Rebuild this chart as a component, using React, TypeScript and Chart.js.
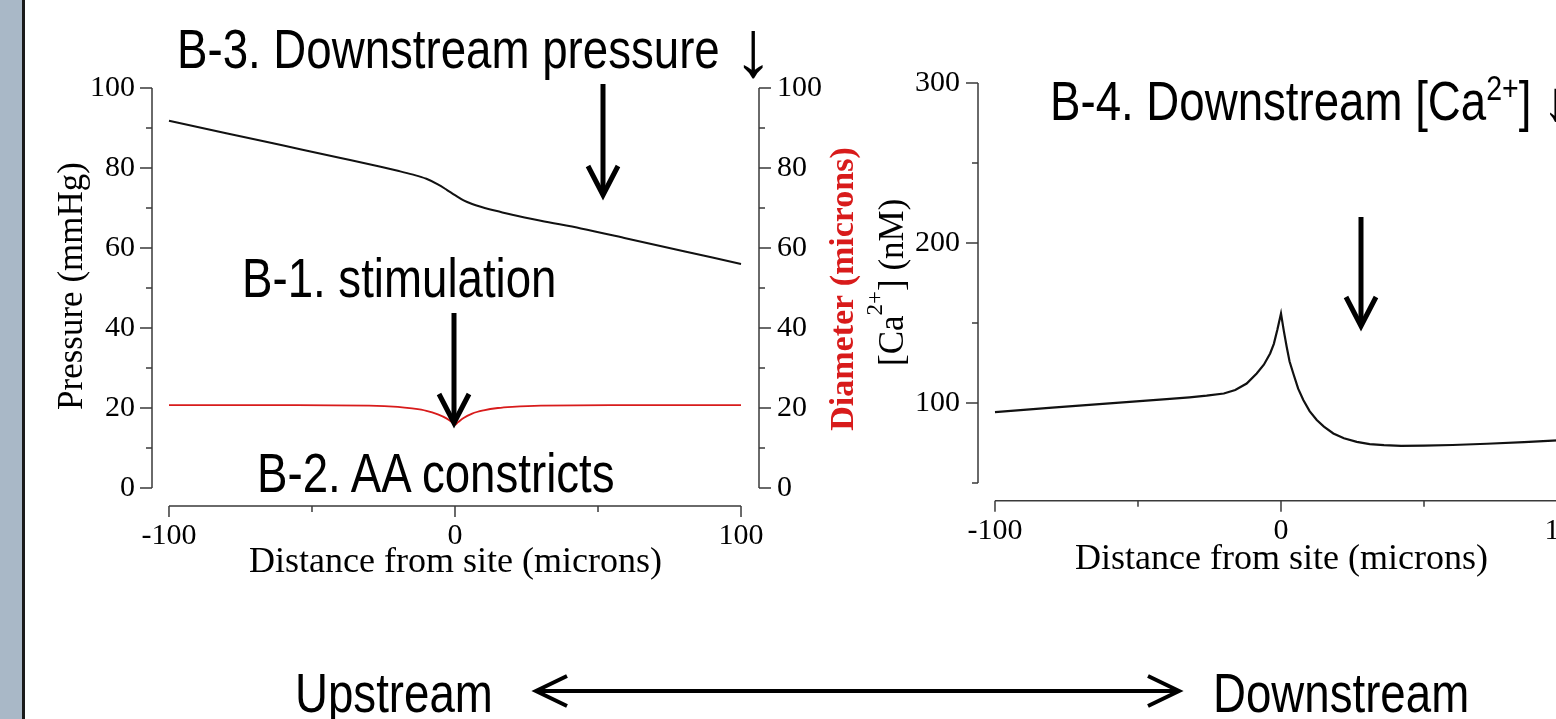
import React, { useEffect, useRef } from 'react';
import { Chart, registerables } from 'chart.js';

Chart.register(...registerables);

// ---------- Data ----------
const pressureDistance = [-100, -80, -60, -40, -26, -20, -15, -10, -6, -3, 0, 3, 6, 9, 12, 16, 20, 30, 44, 60, 80, 100];
const pressureValues = [91.8, 88.7, 85.6, 82.5, 80.3, 79.3, 78.4, 77.3, 75.9, 74.6, 73.2, 71.9, 71.0, 70.3, 69.7, 69.0, 68.3, 66.8, 64.9, 62.4, 59.2, 56.0];

const diameterDistance = [-100, -60, -30, -20, -15, -10, -6, -3, -1, 0, 1, 3, 6, 10, 15, 20, 30, 60, 100];
const diameterValues = [20.7, 20.7, 20.6, 20.3, 19.9, 19.3, 18.4, 17.4, 16.4, 15.8, 16.4, 17.5, 18.6, 19.4, 20.0, 20.3, 20.6, 20.7, 20.7];

const caDistance = [-100, -80, -60, -40, -32, -26, -20, -16, -12, -8.5, -6, -3.8, -2.5, -1.3, 0, 1, 2, 3, 4.3, 6, 7.8, 10, 12.5, 15, 18.3, 22, 26.5, 31, 36, 42, 50, 60, 72, 85, 100];
const caValues = [94.4, 97.1, 99.8, 102.5, 103.6, 104.6, 106.0, 108.2, 112.2, 118.5, 124.0, 131.0, 137.0, 145.6, 156.0, 145.0, 135.0, 126.0, 118.5, 109.0, 101.9, 95.0, 89.4, 85.3, 81.0, 78.0, 75.8, 74.4, 73.7, 73.3, 73.4, 73.8, 74.6, 75.6, 77.0];

const xTickLabels = [-100, 0, 100];
const xMinorTicks = [-50, 50];
const pressureTicks = [0, 20, 40, 60, 80, 100];
const pressureMinorTicks = [10, 30, 50, 70, 90];
const caTicks = [100, 200, 300];
const caMinorTicks = [50, 150, 250];

const SERIF = '"Liberation Serif", "Times New Roman", serif';
const SANS = '"Liberation Sans", Arial, sans-serif';
const AXIS_COLOR = '#3a3a3a';
const RED = '#d81b1b';

const pts = (xs: number[], ys: number[]) => xs.map((x, i) => ({ x, y: ys[i] }));

type AxisSpec = {
  id: string;
  side: 'left' | 'right' | 'bottom';
  from: number;
  to: number;
  majors: number[];
  minors: number[];
};

function axesPlugin(specs: AxisSpec[]) {
  return {
    id: 'customAxes',
    afterDraw(chart: any) {
      const ctx = chart.ctx;
      const area = chart.chartArea;
      ctx.save();
      ctx.strokeStyle = AXIS_COLOR;
      ctx.lineWidth = 1.5;
      specs.forEach((s) => {
        const sc = chart.scales[s.id];
        ctx.beginPath();
        if (s.side === 'bottom') {
          const y = area.bottom;
          ctx.moveTo(sc.getPixelForValue(s.from), y);
          ctx.lineTo(sc.getPixelForValue(s.to), y);
          s.majors.forEach((v) => {
            const x = sc.getPixelForValue(v);
            ctx.moveTo(x, y);
            ctx.lineTo(x, y + 11);
          });
          s.minors.forEach((v) => {
            const x = sc.getPixelForValue(v);
            ctx.moveTo(x, y);
            ctx.lineTo(x, y + 6);
          });
        } else {
          const x = s.side === 'left' ? area.left : area.right;
          const dir = s.side === 'left' ? -1 : 1;
          ctx.moveTo(x, sc.getPixelForValue(s.from));
          ctx.lineTo(x, sc.getPixelForValue(s.to));
          s.majors.forEach((v) => {
            const y = sc.getPixelForValue(v);
            ctx.moveTo(x, y);
            ctx.lineTo(x + dir * 12, y);
          });
          s.minors.forEach((v) => {
            const y = sc.getPixelForValue(v);
            ctx.moveTo(x, y);
            ctx.lineTo(x + dir * 6, y);
          });
        }
        ctx.stroke();
      });
      ctx.restore();
    },
  };
}

function xScale(height: number, titleBottomPad: number) {
  return {
    type: 'linear',
    position: 'bottom',
    min: -105.94,
    max: 106.29,
    grid: { display: false, drawTicks: false, tickLength: 0 },
    border: { display: false },
    afterBuildTicks: (s: any) => {
      s.ticks = xTickLabels.map((v) => ({ value: v }));
    },
    afterFit: (s: any) => {
      s.height = height;
    },
    ticks: {
      padding: 12,
      color: '#000',
      autoSkip: false,
      maxRotation: 0,
      font: { family: SERIF, size: 30 },
    },
    title: {
      display: true,
      text: 'Distance from site (microns)',
      color: '#000',
      font: { family: SERIF, size: 36 },
      padding: { top: 0, bottom: titleBottomPad },
    },
  };
}

function yScale(position: string, min: number, max: number, ticks: number[], width: number, pad: number) {
  return {
    type: 'linear',
    position,
    min,
    max,
    grid: { display: false, drawTicks: false, tickLength: 0 },
    border: { display: false },
    afterBuildTicks: (s: any) => {
      s.ticks = ticks.map((v) => ({ value: v }));
    },
    afterFit: (s: any) => {
      s.width = width;
    },
    ticks: {
      padding: pad,
      color: '#000',
      autoSkip: false,
      font: { family: SERIF, size: 30 },
    },
  };
}

const leftTitlesPlugin = {
  id: 'leftTitles',
  afterDraw(chart: any) {
    const ctx = chart.ctx;
    ctx.save();
    ctx.textAlign = 'center';
    ctx.textBaseline = 'alphabetic';
    // Pressure title
    ctx.save();
    ctx.translate(81.5, 286);
    ctx.rotate(-Math.PI / 2);
    ctx.fillStyle = '#000';
    ctx.font = `35px ${SERIF}`;
    ctx.fillText('Pressure (mmHg)', 0, 0);
    ctx.restore();
    // Diameter title
    ctx.save();
    ctx.translate(853, 289);
    ctx.rotate(-Math.PI / 2);
    ctx.fillStyle = RED;
    ctx.font = `bold 34px ${SERIF}`;
    ctx.fillText('Diameter (microns)', 0, 0);
    ctx.restore();
    ctx.restore();
  },
};

const caTitlePlugin = {
  id: 'caTitle',
  afterDraw(chart: any) {
    const ctx = chart.ctx;
    ctx.save();
    ctx.translate(43, 366);
    ctx.rotate(-Math.PI / 2);
    ctx.fillStyle = '#000';
    ctx.textAlign = 'left';
    ctx.textBaseline = 'alphabetic';
    let x = 0;
    ctx.font = `35px ${SERIF}`;
    ctx.fillText('[Ca', x, 0);
    x += ctx.measureText('[Ca').width;
    ctx.font = `23px ${SERIF}`;
    ctx.fillText('2+', x, -21);
    x += ctx.measureText('2+').width;
    ctx.font = `35px ${SERIF}`;
    ctx.fillText('] (nM)', x, 0);
    ctx.restore();
  },
};

function DownArrow({ x, y1, y2 }: { x: number; y1: number; y2: number }) {
  return (
    <g stroke="#000" strokeWidth={5} fill="none">
      <line x1={x} y1={y1} x2={x} y2={y2 - 2} />
      <polyline points={`${x - 15},${y2 - 29} ${x},${y2} ${x + 15},${y2 - 29}`} strokeLinejoin="miter" />
    </g>
  );
}

export default function App() {
  const c1 = useRef<HTMLCanvasElement>(null);
  const c2 = useRef<HTMLCanvasElement>(null);

  useEffect(() => {
    const chart1 = new Chart(c1.current as HTMLCanvasElement, {
      type: 'line',
      data: {
        datasets: [
          {
            label: 'Pressure',
            data: pts(pressureDistance, pressureValues),
            yAxisID: 'y',
            borderColor: '#111',
            borderWidth: 2,
            cubicInterpolationMode: 'monotone',
          },
          {
            label: 'Diameter',
            data: pts(diameterDistance, diameterValues),
            yAxisID: 'y2',
            borderColor: RED,
            borderWidth: 1.8,
            cubicInterpolationMode: 'monotone',
          },
        ],
      },
      options: {
        responsive: false,
        animation: false,
        devicePixelRatio: 1,
        layout: { padding: { top: 88, left: 0, right: 0, bottom: 0 } },
        plugins: { legend: { display: false }, tooltip: { enabled: false } },
        elements: { point: { radius: 0 }, line: { tension: 0 } },
        scales: {
          x: xScale(213, 134.5),
          y: yScale('left', -4.5, 100, pressureTicks, 152, 17),
          y2: yScale('right', -4.5, 100, pressureTicks, 121, 18),
        } as any,
      },
      plugins: [
        axesPlugin([
          { id: 'x', side: 'bottom', from: -100, to: 100, majors: xTickLabels, minors: xMinorTicks },
          { id: 'y', side: 'left', from: 0, to: 100, majors: pressureTicks, minors: pressureMinorTicks },
          { id: 'y2', side: 'right', from: 0, to: 100, majors: pressureTicks, minors: pressureMinorTicks },
        ]),
        leftTitlesPlugin,
      ],
    } as any);

    const chart2 = new Chart(c2.current as HTMLCanvasElement, {
      type: 'line',
      data: {
        datasets: [
          {
            label: '[Ca2+]',
            data: pts(caDistance, caValues),
            yAxisID: 'y',
            borderColor: '#111',
            borderWidth: 2.2,
          },
        ],
      },
      options: {
        responsive: false,
        animation: false,
        devicePixelRatio: 1,
        layout: { padding: { top: 83, left: 0, right: 35, bottom: 0 } },
        plugins: { legend: { display: false }, tooltip: { enabled: false } },
        elements: { point: { radius: 0 }, line: { tension: 0 } },
        scales: {
          x: xScale(218.3, 137.5),
          y: yScale('left', 39, 300, caTicks, 118, 18),
        } as any,
      },
      plugins: [
        axesPlugin([
          { id: 'x', side: 'bottom', from: -100, to: 100, majors: xTickLabels, minors: xMinorTicks },
          { id: 'y', side: 'left', from: 50, to: 300, majors: caTicks, minors: caMinorTicks },
        ]),
        caTitlePlugin,
      ],
    } as any);

    return () => {
      chart1.destroy();
      chart2.destroy();
    };
  }, []);

  const txt = (x: number, y: number) => `translate(${x},${y}) scale(0.815,1)`;

  return (
    <div
      style={{
        position: 'absolute',
        left: 0,
        top: 0,
        width: 1556,
        height: 719,
        overflow: 'hidden',
        background: '#ffffff',
      }}
    >
      <div style={{ position: 'absolute', left: 0, top: 0, width: 22, height: 719, background: '#a9b8c7' }} />
      <div style={{ position: 'absolute', left: 22, top: 0, width: 3, height: 719, background: '#1a1a1a' }} />
      <canvas ref={c1} width={880} height={719} style={{ position: 'absolute', left: 0, top: 0 }} />
      <canvas ref={c2} width={760} height={719} style={{ position: 'absolute', left: 860, top: 0 }} />
      <svg
        width={1556}
        height={719}
        style={{ position: 'absolute', left: 0, top: 0, pointerEvents: 'none' }}
      >
        <g fontFamily={SANS} fontSize={56} fill="#000">
          <text transform={txt(177, 68)}>B-3. Downstream pressure</text>
          <text x={733} y={76} fontSize={80}>↓</text>
          <text transform={txt(242, 297)}>B-1. stimulation</text>
          <text transform={txt(257, 492)}>B-2. AA constricts</text>
          <text transform={txt(1050, 120)}>
            B-4. Downstream [Ca
            <tspan fontSize={35} dy={-20}>2+</tspan>
            <tspan dy={20}>] ↓</tspan>
          </text>
          <text transform={txt(295, 712)}>Upstream</text>
          <text transform={txt(1213, 712)}>Downstream</text>
        </g>
        <DownArrow x={603} y1={84} y2={195} />
        <DownArrow x={454} y1={313} y2={423} />
        <DownArrow x={1361} y1={217} y2={326} />
        <g stroke="#000" strokeWidth={4} fill="none">
          <line x1={538} y1={691} x2={1177} y2={691} />
          <polyline points="567,676 536,691 567,706" />
          <polyline points="1148,676 1179,691 1148,706" />
        </g>
      </svg>
    </div>
  );
}
